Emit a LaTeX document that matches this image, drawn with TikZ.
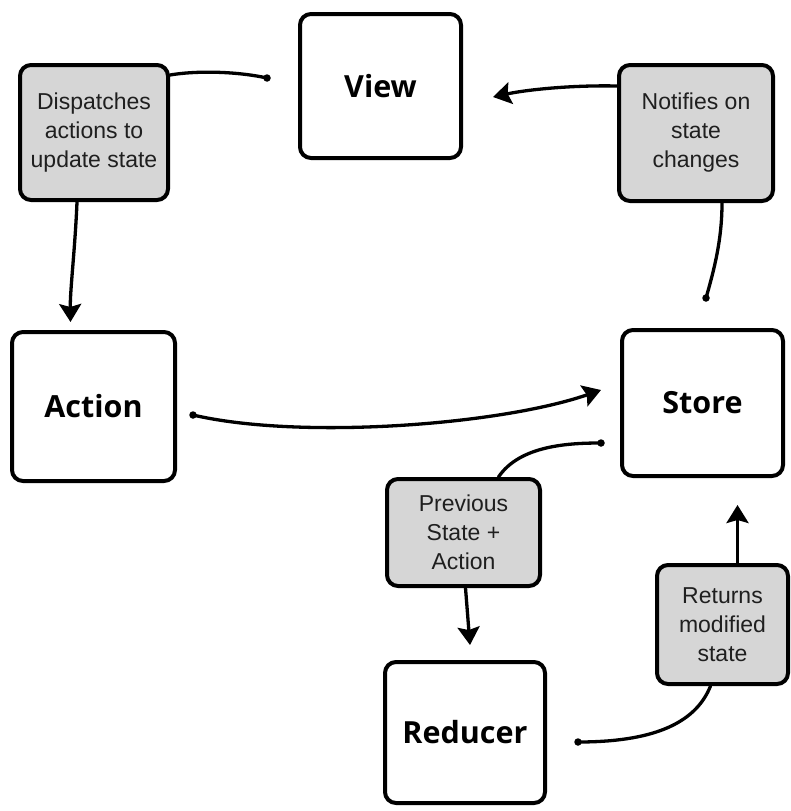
\documentclass[tikz,border=0pt]{standalone}
\usepackage{fontspec}
\setmainfont{Liberation Sans}
\newfontfamily\notefont{Liberation Sans}
\newfontfamily\headfont{Open Sans}
\usetikzlibrary{arrows.meta,calc}
\definecolor{notegray}{HTML}{D6D6D6}
\tikzset{
  mainbox/.style={draw=black, line width=4pt, rounded corners=11pt, fill=white,
    inner sep=0pt, font=\headfont\bfseries\fontsize{30.5}{34}\selectfont},
  notebox/.style={draw=black, line width=4pt, rounded corners=11pt, fill=notegray,
    inner sep=0pt, align=center, text=black!88, font=\notefont\fontsize{23}{29}\selectfont},
  conn/.style={line width=3.3pt, line cap=round, black},
  arr/.style={conn, -{Stealth[length=18pt,width=22pt,inset=3pt]}},
  dotend/.style={fill=black, circle, inner sep=0pt, minimum size=7.5pt},
}
\begin{document}
\begin{tikzpicture}[x=1pt,y=-1pt]
\useasboundingbox (0,0) rectangle (791,811);

% main boxes
\node[mainbox, minimum width=161pt, minimum height=144pt] (view) at (380.5,86) {View};
\node[mainbox, minimum width=163pt, minimum height=149pt] (action) at (93.5,406.5) {Action};
\node[mainbox, minimum width=161pt, minimum height=146pt] (store) at (702.5,403) {Store};
\node[mainbox, minimum width=160pt, minimum height=141pt] (reducer) at (465,732.5) {Reducer};

% note boxes
\node[notebox, minimum width=148pt, minimum height=135pt] (disp) at (94,132.5) {Dispatches\\actions to\\update state};
\node[notebox, minimum width=154pt, minimum height=136pt] (notif) at (696,133) {Notifies on\\state\\changes};
\node[notebox, minimum width=153pt, minimum height=107pt] (prev) at (463.5,532.5) {Previous\\State +\\Action};
\node[notebox, minimum width=131pt, minimum height=119pt] (ret) at (722.5,624.5) {Returns\\modified\\state};

% free ends
\coordinate (vdot) at (267,78);
\coordinate (sdot1) at (706,298);
\coordinate (adot) at (193,415);
\coordinate (sdot2) at (601,443);
\coordinate (rdot) at (578,742);

% connectors
\draw[conn] ($(disp.north east)+(0,12)$) .. controls (200,70) and (240,72) .. (vdot);
\node[dotend] at (vdot) {};
\draw[arr] ($(disp.south)+(-17,0)$) .. controls (75,250) and (70,290) .. ($(action.north)+(-23,-8)$);

\draw[arr] ($(notif.west)+(0,-47)$) .. controls (570,85) and (525,90) .. ($(view.east)+(30,11)$);
\draw[conn] ($(notif.south)+(26,0)$) .. controls (722,240) and (714,270) .. (sdot1);
\node[dotend] at (sdot1) {};

\draw[arr] (adot) .. controls (300,440) and (500,425) .. ($(store.west)+(-19,-13)$);
\node[dotend] at (adot) {};

\draw[conn] ($(prev.north)+(35,0)$) .. controls (520,445) and (570,443) .. (sdot2);
\node[dotend] at (sdot2) {};
\draw[arr] ($(prev.south)+(2,0)$) -- ($(reducer.north)+(5,-15)$);

\draw[conn] (rdot) .. controls (650,742) and (695,725) .. ($(ret.south)+(-12,0)$);
\node[dotend] at (rdot) {};
\draw[arr] ($(ret.north)+(15,0)$) -- ($(store.south)+(35,27)$);
\end{tikzpicture}
\end{document}
